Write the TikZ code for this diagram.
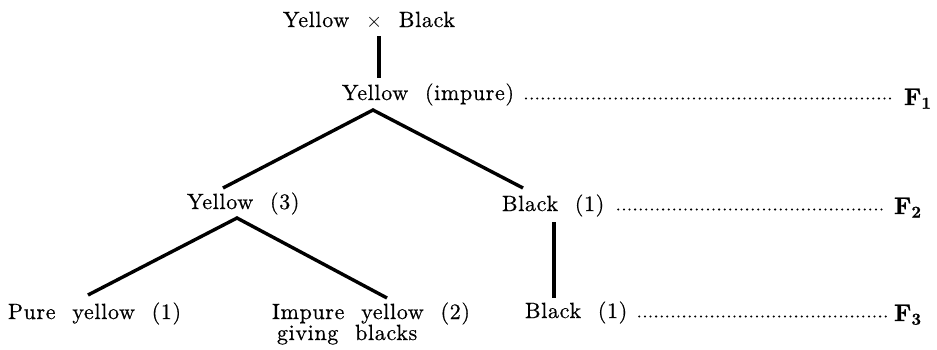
\documentclass[tikz,border=0pt]{standalone}
\usepackage{fontspec}
\setmainfont{lmroman10}[Extension=.otf, UprightFont=*-regular, BoldFont=*-bold, ItalicFont=*-italic, BoldItalicFont=*-bolditalic, LetterSpace=3, WordSpace=2.1, FakeBold=0.6]
\begin{document}
\begin{tikzpicture}[x=1pt,y=-1pt,
  txt/.style={inner sep=0pt, outer sep=0pt, font=\fontsize{22}{24}\selectfont, anchor=base west},
  gen/.style={txt, font=\fontsize{24}{26}\selectfont\bfseries},
  branch/.style={line width=3.4pt},
  leader/.style={line width=2.3pt, dash pattern=on 0pt off 5.6pt, line cap=round}]
\useasboundingbox (0,0) rectangle (937,349);
% texts
\node[txt] (p) at (283,27) {Yellow $\times$ Black};
\node[txt] (f1) at (342,100) {Yellow (impure)};
\node[gen] (g1) at (904,105) {F\textsubscript{1}};
\node[txt] (y3) at (187,209) {Yellow (3)};
\node[txt] (b1) at (502,211) {Black (1)};
\node[gen] (g2) at (894,214) {F\textsubscript{2}};
\node[txt] (pure) at (8,319) {Pure yellow (1)};
\node[txt] (imp) at (272,319) {Impure yellow (2)};
\node[txt] (imp2) at (277,340) {giving blacks};
\node[txt] (b2) at (525,318) {Black (1)};
\node[gen] (g3) at (894,321) {F\textsubscript{3}};
% connector points
\coordinate (v1a) at (379,36);
\coordinate (v1b) at (379,78);
\coordinate (a2) at (373,110);
\coordinate (e2l) at (223,188);
\coordinate (e2r) at (523,188);
\coordinate (a3) at (237,218);
\coordinate (e3l) at (88,295);
\coordinate (e3r) at (387,298);
\coordinate (v2a) at (554,222);
\coordinate (v2b) at (554,298);
\draw[branch] (v1a) -- (v1b);
\draw[branch] (e2l) -- (a2) -- (e2r);
\draw[branch] (e3l) -- (a3) -- (e3r);
\draw[branch] (v2a) -- (v2b);
% leaders
\path ([shift={(12,-1.5)}]f1.base east) coordinate (d1);
\draw[leader] (d1) -- ([xshift=-10pt]d1 -| g1.west);
\path ([shift={(14,-1.5)}]b1.base east) coordinate (d2);
\draw[leader] (d2) -- ([xshift=-10pt]d2 -| g2.west);
\path ([shift={(12,-1.5)}]b2.base east) coordinate (d3);
\draw[leader] (d3) -- ([xshift=-8pt]d3 -| g3.west);
\end{tikzpicture}
\end{document}
